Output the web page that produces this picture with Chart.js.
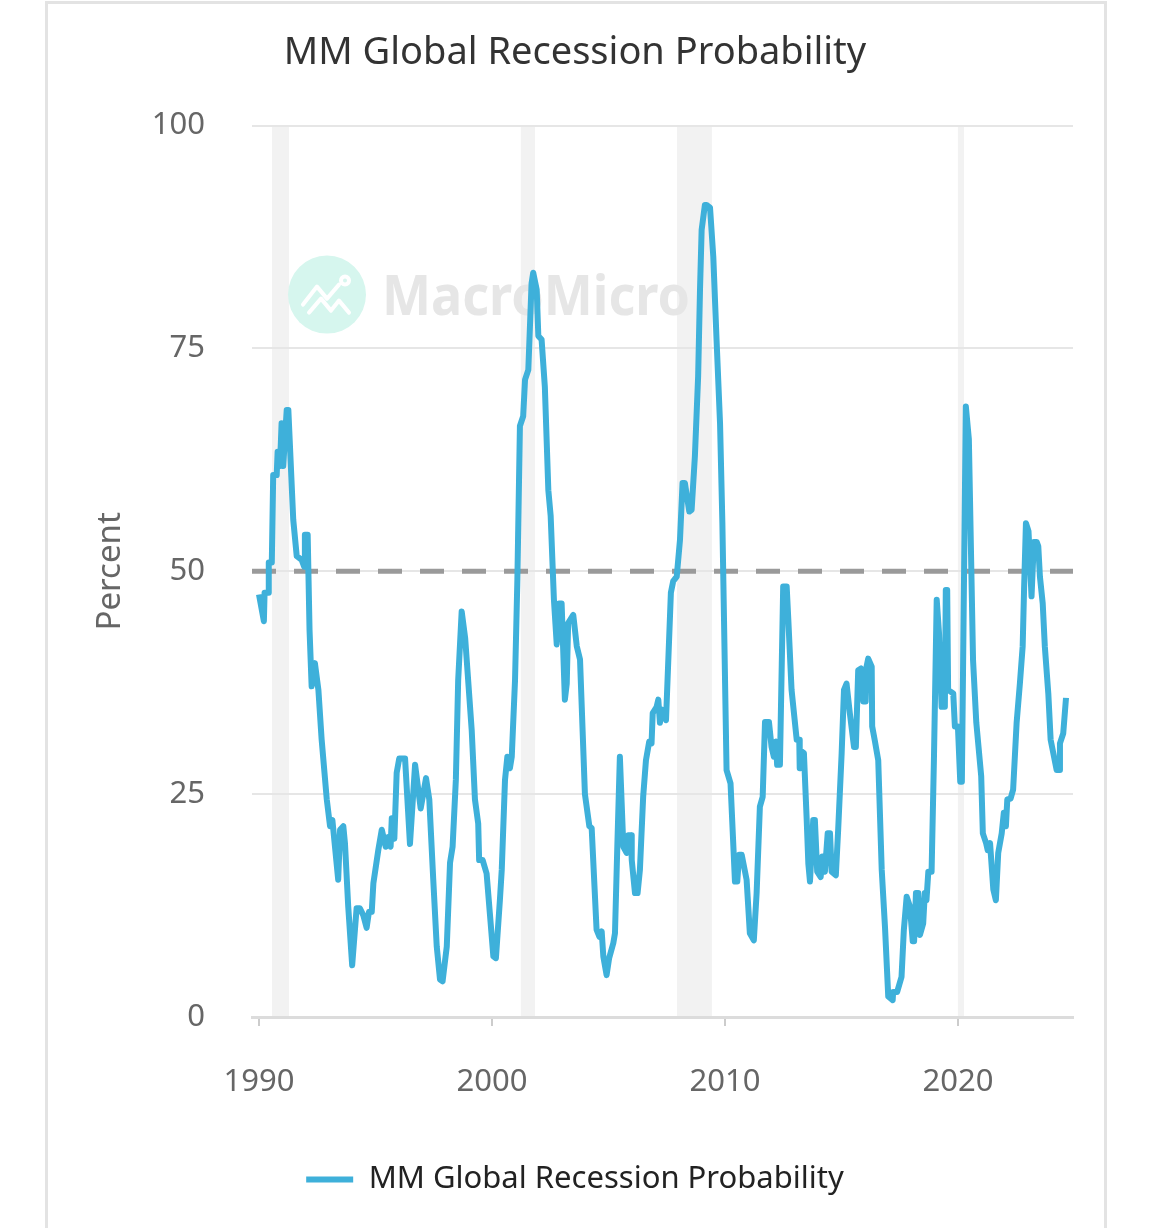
<!DOCTYPE html>
<html>
<head>
<meta charset="utf-8">
<title>MM Global Recession Probability</title>
<script src="https://cdn.jsdelivr.net/npm/chart.js@4.4.1/dist/chart.umd.min.js"></script>
<style>
  html, body { margin: 0; padding: 0; background: #fff; }
  body { width: 1152px; height: 1228px; position: relative; overflow: hidden; }
  .card { position: absolute; left: 45px; top: 1px; width: 1062px; height: 1300px; border: 3px solid #e3e3e3; box-sizing: border-box; }
  #wrap { position: absolute; left: 0; top: 0; width: 1152px; height: 1228px; }
</style>
</head>
<body>
<div class="card"></div>
<div id="wrap"><canvas id="chart"></canvas></div>
<script>
// ------------------------------------------------------------
//  Data (decimal years)
// ------------------------------------------------------------
var years = [
  1990.00, 1990.21, 1990.24, 1990.40, 1990.42, 1990.55, 1990.61, 1990.76, 1990.80, 1990.90,
  1990.97, 1991.04, 1991.19, 1991.26, 1991.47, 1991.62, 1991.83, 1991.94, 1991.97, 1992.09,
  1992.17, 1992.26, 1992.40, 1992.55, 1992.69, 1992.91, 1993.05, 1993.15, 1993.40, 1993.48,
  1993.62, 1993.69, 1993.83, 1994.00, 1994.19, 1994.33, 1994.48, 1994.62, 1994.72, 1994.84,
  1994.91, 1995.12, 1995.27, 1995.44, 1995.55, 1995.65, 1995.70, 1995.81, 1995.91, 1996.02,
  1996.27, 1996.48, 1996.70, 1996.94, 1997.17, 1997.31, 1997.48, 1997.63, 1997.77, 1997.88,
  1998.06, 1998.20, 1998.31, 1998.45, 1998.55, 1998.70, 1998.85, 1999.13, 1999.27, 1999.41,
  1999.45, 1999.60, 1999.77, 1999.91, 2000.06, 2000.17, 2000.34, 2000.42, 2000.56, 2000.66,
  2000.77, 2000.85, 2000.99, 2001.09, 2001.20, 2001.34, 2001.42, 2001.56, 2001.70, 2001.77,
  2001.92, 2001.99, 2002.13, 2002.27, 2002.42, 2002.52, 2002.66, 2002.78, 2002.88, 2002.99,
  2003.13, 2003.21, 2003.27, 2003.49, 2003.64, 2003.78, 2003.99, 2004.18, 2004.28, 2004.49,
  2004.61, 2004.71, 2004.78, 2004.92, 2005.03, 2005.21, 2005.28, 2005.38, 2005.49, 2005.64,
  2005.78, 2005.85, 2005.97, 2006.00, 2006.14, 2006.25, 2006.35, 2006.49, 2006.61, 2006.75,
  2006.85, 2006.90, 2007.07, 2007.14, 2007.21, 2007.28, 2007.47, 2007.57, 2007.68, 2007.78,
  2007.93, 2008.07, 2008.18, 2008.28, 2008.47, 2008.57, 2008.71, 2008.85, 2008.93, 2009.00,
  2009.14, 2009.21, 2009.36, 2009.50, 2009.64, 2009.79, 2009.89, 2010.07, 2010.24, 2010.43,
  2010.53, 2010.61, 2010.72, 2010.93, 2011.07, 2011.24, 2011.36, 2011.50, 2011.62, 2011.72,
  2011.89, 2012.00, 2012.10, 2012.19, 2012.24, 2012.36, 2012.50, 2012.65, 2012.72, 2012.86,
  2013.08, 2013.19, 2013.21, 2013.29, 2013.39, 2013.51, 2013.58, 2013.65, 2013.79, 2013.86,
  2013.96, 2014.11, 2014.18, 2014.29, 2014.41, 2014.51, 2014.58, 2014.76, 2014.86, 2015.01,
  2015.11, 2015.22, 2015.36, 2015.54, 2015.62, 2015.72, 2015.84, 2015.94, 2016.04, 2016.08,
  2016.15, 2016.30, 2016.32, 2016.44, 2016.58, 2016.73, 2016.87, 2017.01, 2017.20, 2017.22,
  2017.39, 2017.58, 2017.68, 2017.80, 2017.94, 2018.06, 2018.12, 2018.20, 2018.30, 2018.37,
  2018.51, 2018.58, 2018.65, 2018.73, 2018.87, 2018.97, 2019.09, 2019.19, 2019.30, 2019.44,
  2019.48, 2019.54, 2019.58, 2019.80, 2019.87, 2020.00, 2020.10, 2020.17, 2020.34, 2020.47,
  2020.65, 2020.79, 2021.00, 2021.07, 2021.21, 2021.28, 2021.38, 2021.52, 2021.63, 2021.73,
  2021.88, 2021.97, 2022.06, 2022.12, 2022.26, 2022.37, 2022.52, 2022.66, 2022.78, 2022.84,
  2022.92, 2023.03, 2023.16, 2023.26, 2023.38, 2023.45, 2023.52, 2023.64, 2023.73, 2023.88,
  2023.98, 2024.24, 2024.35, 2024.38, 2024.52, 2024.64
];

var probability = [
  47.4, 44.4, 47.6, 47.6, 51.0, 51.0, 60.8, 60.8, 63.4, 61.8,
  66.6, 61.8, 68.1, 68.1, 55.8, 51.7, 51.3, 50.5, 54.1, 54.1,
  43.4, 37.1, 39.7, 36.7, 31.1, 24.4, 21.4, 22.1, 15.4, 21.0,
  21.4, 19.5, 12.4, 5.8, 12.2, 12.2, 11.4, 10.0, 11.8, 11.8,
  15.0, 18.7, 21.0, 19.1, 20.2, 19.1, 22.3, 20.0, 27.4, 29.0,
  29.0, 19.4, 28.3, 23.4, 26.8, 24.4, 15.4, 7.9, 4.2, 4.0,
  7.9, 17.3, 19.1, 26.6, 37.8, 45.5, 42.5, 32.2, 24.4, 21.7,
  17.6, 17.6, 16.1, 11.6, 6.8, 6.6, 13.1, 16.5, 26.6, 29.2,
  27.9, 29.2, 37.8, 49.0, 66.3, 67.4, 71.5, 72.6, 82.3, 83.5,
  81.6, 76.4, 76.0, 70.7, 59.1, 56.2, 46.8, 41.8, 46.4, 46.4,
  35.6, 37.4, 44.2, 45.1, 41.6, 40.1, 25.0, 21.4, 21.2, 9.8,
  9.0, 9.6, 6.8, 4.7, 6.6, 8.3, 9.4, 19.1, 29.2, 19.1,
  18.4, 20.4, 20.4, 17.6, 13.9, 13.9, 16.5, 24.7, 28.8, 30.9,
  30.7, 34.1, 34.8, 35.6, 33.0, 34.5, 33.3, 40.1, 47.6, 48.9,
  49.4, 53.5, 59.9, 59.9, 56.7, 56.9, 62.9, 71.9, 81.6, 88.3,
  91.1, 91.1, 90.8, 85.3, 76.0, 66.6, 55.4, 27.7, 26.2, 15.2,
  15.2, 18.2, 18.2, 15.4, 9.4, 8.6, 13.9, 23.6, 24.7, 33.1,
  33.1, 30.3, 29.2, 30.9, 28.3, 28.3, 48.3, 48.3, 44.6, 36.7,
  31.1, 31.1, 27.9, 29.8, 29.6, 22.1, 17.2, 15.2, 22.1, 22.1,
  16.3, 15.7, 18.0, 16.3, 20.6, 20.6, 16.3, 15.9, 21.0, 29.6,
  36.7, 37.4, 34.1, 30.3, 30.3, 38.9, 39.1, 35.4, 35.4, 39.3,
  40.2, 39.3, 32.6, 30.9, 28.8, 16.5, 10.1, 2.3, 1.9, 2.8,
  2.8, 4.5, 9.8, 13.5, 12.4, 8.5, 8.5, 13.9, 13.9, 9.2,
  10.5, 13.9, 13.1, 16.3, 16.3, 28.8, 46.8, 43.0, 34.8, 34.8,
  47.9, 47.9, 36.7, 36.3, 32.6, 32.6, 26.4, 26.4, 68.5, 64.8,
  40.0, 33.0, 27.0, 20.6, 19.5, 18.7, 19.5, 14.3, 13.1, 18.4,
  20.6, 22.9, 21.4, 24.4, 24.5, 25.5, 33.0, 37.4, 41.6, 48.0,
  55.4, 54.5, 47.2, 53.3, 53.3, 52.8, 49.4, 46.4, 41.6, 36.3,
  31.1, 27.7, 27.7, 30.7, 31.8, 35.8
];

// shaded recession periods
var recessionStarts = [1990.56, 2001.24, 2007.94, 2020.00];
var recessionEnds   = [1991.29, 2001.85, 2009.44, 2020.26];

var thresholdLevel = 50;
var xTicks = [1990, 2000, 2010, 2020];
var yTicks = [0, 25, 50, 75, 100];

var lineColor = '#3eb0da';
var seriesName = 'MM Global Recession Probability';

Chart.defaults.font.family = "'Noto Sans', 'Open Sans', sans-serif";

// ------------------------------------------------------------
//  Plugins: recession bands, watermark, 50% dashed line
// ------------------------------------------------------------
var bandsPlugin = {
  id: 'bands',
  beforeDraw: function (chart) {
    var ctx = chart.ctx, a = chart.chartArea, xs = chart.scales.x;
    ctx.save();
    ctx.fillStyle = '#f2f2f2';
    recessionStarts.forEach(function (s, i) {
      var x0 = xs.getPixelForValue(s);
      var x1 = xs.getPixelForValue(recessionEnds[i]);
      ctx.fillRect(x0, a.top, x1 - x0, a.bottom - a.top);
    });
    ctx.restore();
  }
};

var overlayPlugin = {
  id: 'overlay',
  beforeDatasetsDraw: function (chart) {
    var ctx = chart.ctx, a = chart.chartArea;
    ctx.save();

    // watermark
    var cx = a.left + 75, cy = a.top + 169;
    ctx.fillStyle = '#d6f6ee';
    ctx.beginPath();
    ctx.arc(cx, cy, 39, 0, Math.PI * 2);
    ctx.fill();
    ctx.strokeStyle = '#ffffff';
    ctx.lineWidth = 4;
    ctx.lineJoin = 'round';
    ctx.lineCap = 'round';
    ctx.beginPath();
    ctx.moveTo(cx - 24, cy + 10);
    ctx.lineTo(cx - 10, cy - 8);
    ctx.lineTo(cx, cy + 4);
    ctx.lineTo(cx + 12, cy - 10);
    ctx.moveTo(cx - 18, cy + 18);
    ctx.lineTo(cx - 6, cy + 4);
    ctx.lineTo(cx + 4, cy + 16);
    ctx.lineTo(cx + 12, cy + 6);
    ctx.lineTo(cx + 22, cy + 18);
    ctx.stroke();
    ctx.beginPath();
    ctx.arc(cx + 18, cy - 14, 4, 0, Math.PI * 2);
    ctx.stroke();

    ctx.fillStyle = '#e6e6e6';
    ctx.font = "bold 56px 'Noto Sans', sans-serif";
    ctx.textBaseline = 'alphabetic';
    ctx.fillText('MacroMicro', a.left + 130, a.top + 189, 308);

    // threshold line
    var y = chart.scales.y.getPixelForValue(thresholdLevel);
    ctx.setLineDash([24, 18]);
    ctx.strokeStyle = '#9a9a9a';
    ctx.lineWidth = 5;
    ctx.lineCap = 'butt';
    ctx.beginPath();
    ctx.moveTo(a.left, y);
    ctx.lineTo(a.right, y);
    ctx.stroke();
    ctx.restore();
  }
};

// ------------------------------------------------------------
//  Chart
// ------------------------------------------------------------
var points = years.map(function (yr, i) { return { x: yr, y: probability[i] }; });

new Chart(document.getElementById('chart').getContext('2d'), {
  type: 'line',
  data: {
    datasets: [{
      label: seriesName,
      data: points,
      borderColor: lineColor,
      backgroundColor: lineColor,
      borderWidth: 6,
      borderJoinStyle: 'round',
      pointRadius: 0,
      tension: 0,
      fill: false
    }]
  },
  options: {
    responsive: true,
    maintainAspectRatio: false,
    animation: false,
    devicePixelRatio: 1,
    layout: { padding: { left: 77, right: 79, top: 0, bottom: 23 } },
    plugins: {
      title: {
        display: true,
        text: seriesName,
        color: '#333333',
        font: { size: 38, weight: 'normal' },
        padding: { top: 30, bottom: 50 }
      },
      legend: {
        position: 'bottom',
        labels: {
          color: '#222222',
          font: { size: 31 },
          boxWidth: 47,
          boxHeight: 6,
          padding: 10,
          generateLabels: function (chart) {
            var items = Chart.defaults.plugins.legend.labels.generateLabels(chart);
            items.forEach(function (it) { it.fillStyle = lineColor; it.lineWidth = 0; });
            return items;
          }
        }
      },
      tooltip: { enabled: false }
    },
    scales: {
      x: {
        type: 'linear',
        min: 1989.7,
        max: 2024.94,
        afterBuildTicks: function (s) { s.ticks = xTicks.map(function (v) { return { value: v }; }); },
        afterFit: function (s) { s.height = 137; },
        ticks: {
          color: '#666666',
          font: { size: 31 },
          padding: 38,
          maxRotation: 0,
          autoSkip: false,
          callback: function (v) { return String(v); }
        },
        grid: { drawOnChartArea: false, drawTicks: true, tickLength: 9, color: '#cccccc', lineWidth: 2 },
        border: { display: true, color: '#dcdcdc', width: 3 }
      },
      y: {
        min: 0,
        max: 100,
        afterBuildTicks: function (s) { s.ticks = yTicks.map(function (v) { return { value: v }; }); },
        afterFit: function (s) { s.width = 175; },
        ticks: { color: '#666666', font: { size: 31 }, padding: 47 },
        grid: { color: '#e6e6e6', lineWidth: 2, drawTicks: false },
        border: { display: false },
        title: {
          display: true,
          text: 'Percent',
          color: '#666666',
          font: { size: 33 },
          padding: { top: 14, bottom: 0 }
        }
      }
    }
  },
  plugins: [bandsPlugin, overlayPlugin]
});
</script>
</body>
</html>
